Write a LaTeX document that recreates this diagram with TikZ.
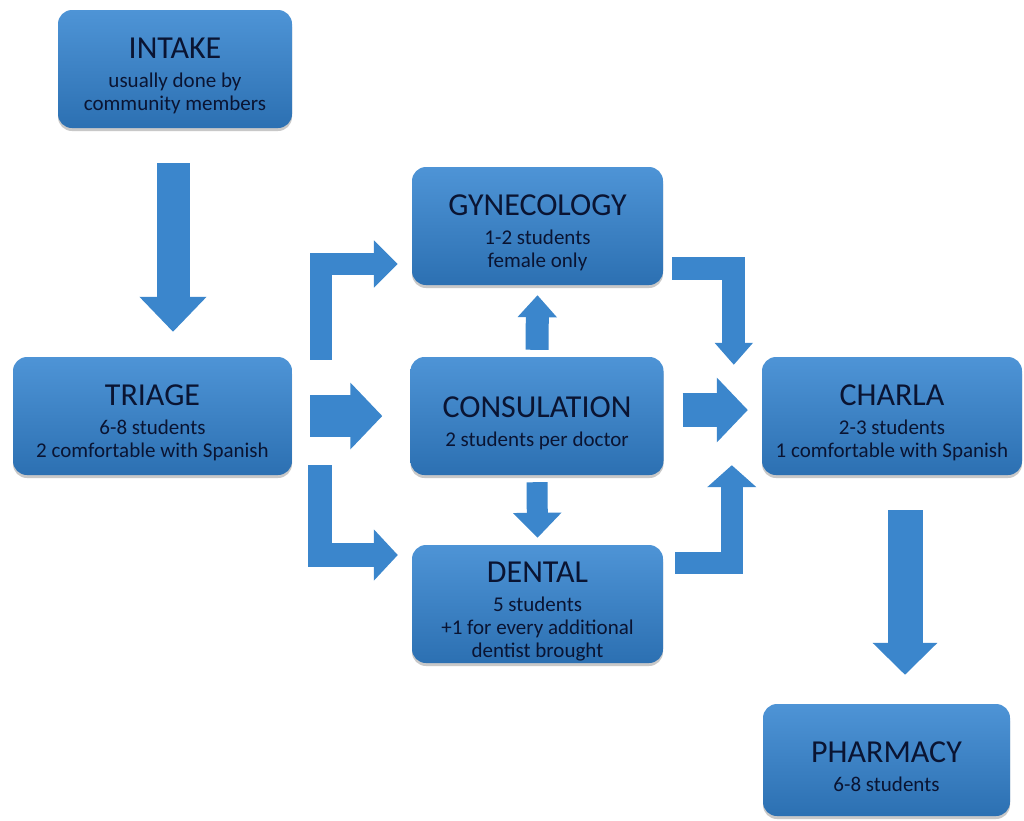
\documentclass[tikz,border=0pt]{standalone}
\usepackage{fontspec}
\setmainfont{Carlito}
\usetikzlibrary{arrows.meta,shadows,calc}
\definecolor{boxtop}{RGB}{78,148,214}
\definecolor{boxbot}{RGB}{44,112,178}
\definecolor{arrowc}{RGB}{59,134,204}
\definecolor{txt}{RGB}{10,20,50}
\newcommand{\ttl}[1]{{\fontsize{32}{33}\selectfont\rule{0pt}{35pt}#1}\\[6pt]}
\tikzset{
  box/.style={rounded corners=14pt, top color=boxtop, bottom color=boxbot, draw=none,
    inner sep=0pt, align=center, text=txt, font=\fontsize{21}{23}\selectfont,
    minimum height=118pt,
    drop shadow={shadow xshift=0pt, shadow yshift=-3pt, opacity=0.3, fill=black!70}},
  barrow/.style={draw=arrowc, line width=#1, line join=miter, line cap=butt},
}
\begin{document}
\begin{tikzpicture}[x=1pt,y=-1pt]
\useasboundingbox[fill=white] (0,0) rectangle (1024,820);
% boxes
\node[box, minimum width=234pt] (intake) at (175,69) {\ttl{INTAKE}usually done by\\community members};
\node[box, minimum width=279pt] (triage) at (152.5,416) {\ttl{TRIAGE}6-8 students\\2 comfortable with Spanish};
\node[box, minimum width=251pt] (gyn) at (537.5,226) {\ttl{GYNECOLOGY}1-2 students\\female only};
\node[box, minimum width=253pt] (cons) at (537,416) {\ttl{CONSULATION}2 students per doctor};
\node[box, minimum width=251pt] (dental) at (537.5,604) {\ttl{DENTAL}5 students\\+1 for every additional\\dentist brought};
\node[box, minimum width=260pt] (charla) at (892,416) {\ttl{CHARLA}2-3 students\\1 comfortable with Spanish};
\node[box, minimum width=247pt, minimum height=112pt] (pharm) at (886.5,760) {\ttl{PHARMACY}6-8 students};
% arrows
\draw[barrow=33pt, -{Triangle[width=65pt,length=35pt]}] ([xshift=-2pt,yshift=-35pt]intake.south) -- ([xshift=20.5pt,yshift=25pt]triage.north);
\draw[barrow=42pt, -{Triangle[width=65pt,length=32pt]}] ([xshift=18pt]triage.east) -- ([xshift=-28pt]cons.west);
\draw[barrow=22pt, -{Triangle[width=46pt,length=24pt]}] ([xshift=29pt,yshift=-3pt]triage.north east) |- ([xshift=-14pt,yshift=-38pt]gyn.west);
\draw[barrow=24pt, -{Triangle[width=50pt,length=24pt]}] ([xshift=28pt,yshift=10pt]triage.south east) |- ([xshift=-14pt,yshift=49pt]dental.west);
\draw[barrow=23pt, -{Triangle[width=38pt,length=22pt]}] ([yshift=7pt]cons.north) -- ([yshift=-10pt]gyn.south);
\draw[barrow=21pt, -{Triangle[width=47pt,length=25pt]}] ([yshift=-7pt]cons.south) -- ([yshift=7pt]dental.north);
\draw[barrow=34pt, -{Triangle[width=63pt,length=31pt]}] ([xshift=19pt,yshift=6pt]cons.east) -- ([xshift=-14pt,yshift=6pt]charla.west);
\draw[barrow=23pt, -{Triangle[width=37pt,length=22pt]}] ([xshift=9pt,yshift=-42pt]gyn.east) -| ([xshift=-28pt,yshift=-8pt]charla.north west);
\draw[barrow=22pt, -{Triangle[width=48pt,length=22pt]}] ([xshift=12pt,yshift=41pt]dental.east) -| ([xshift=-30pt,yshift=10pt]charla.south west);
\draw[barrow=35pt, -{Triangle[width=63pt,length=32pt]}] ([xshift=13pt,yshift=-35pt]charla.south) -- ([xshift=18.5pt,yshift=29pt]pharm.north);
\end{tikzpicture}
\end{document}
